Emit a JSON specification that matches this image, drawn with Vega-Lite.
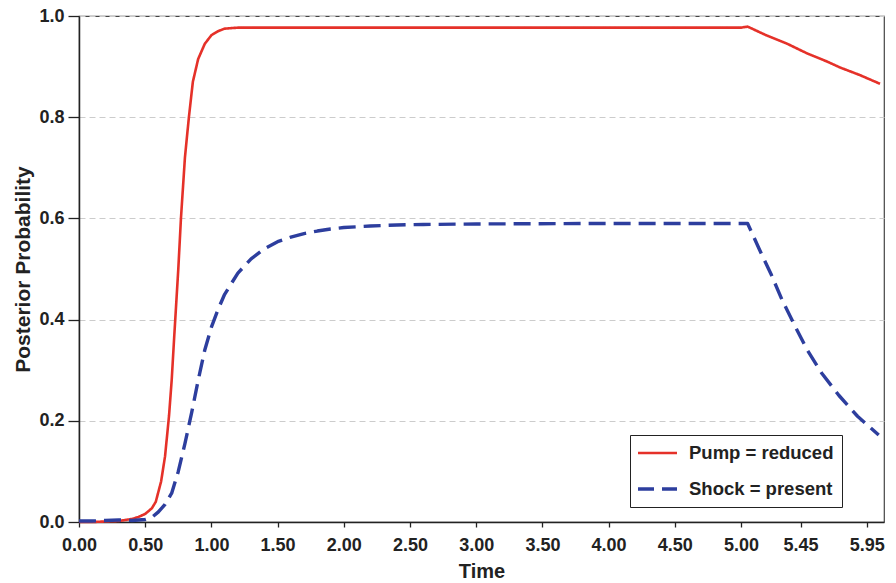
{
  "$schema": "https://vega.github.io/schema/vega-lite/v6.json",
  "width": 805,
  "height": 506,
  "autosize": {"type": "none"},
  "padding": {"left": 79, "top": 16, "right": 12, "bottom": 61},
  "background": "white",
  "config": {
    "font": "Liberation Sans",
    "view": {"stroke": "#444", "strokeWidth": 1.2}
  },
  "data": {
    "values": [
      {"Series": "Pump = reduced", "Time": 0.00, "Probability": 0.000},
      {"Series": "Pump = reduced", "Time": 0.10, "Probability": 0.000},
      {"Series": "Pump = reduced", "Time": 0.20, "Probability": 0.001},
      {"Series": "Pump = reduced", "Time": 0.30, "Probability": 0.002},
      {"Series": "Pump = reduced", "Time": 0.35, "Probability": 0.004},
      {"Series": "Pump = reduced", "Time": 0.40, "Probability": 0.006},
      {"Series": "Pump = reduced", "Time": 0.45, "Probability": 0.010},
      {"Series": "Pump = reduced", "Time": 0.50, "Probability": 0.016},
      {"Series": "Pump = reduced", "Time": 0.55, "Probability": 0.027},
      {"Series": "Pump = reduced", "Time": 0.58, "Probability": 0.040},
      {"Series": "Pump = reduced", "Time": 0.62, "Probability": 0.080},
      {"Series": "Pump = reduced", "Time": 0.65, "Probability": 0.130},
      {"Series": "Pump = reduced", "Time": 0.68, "Probability": 0.210},
      {"Series": "Pump = reduced", "Time": 0.70, "Probability": 0.280},
      {"Series": "Pump = reduced", "Time": 0.72, "Probability": 0.370},
      {"Series": "Pump = reduced", "Time": 0.75, "Probability": 0.500},
      {"Series": "Pump = reduced", "Time": 0.77, "Probability": 0.600},
      {"Series": "Pump = reduced", "Time": 0.80, "Probability": 0.720},
      {"Series": "Pump = reduced", "Time": 0.83, "Probability": 0.800},
      {"Series": "Pump = reduced", "Time": 0.86, "Probability": 0.870},
      {"Series": "Pump = reduced", "Time": 0.90, "Probability": 0.915},
      {"Series": "Pump = reduced", "Time": 0.95, "Probability": 0.945},
      {"Series": "Pump = reduced", "Time": 1.00, "Probability": 0.962},
      {"Series": "Pump = reduced", "Time": 1.05, "Probability": 0.970},
      {"Series": "Pump = reduced", "Time": 1.10, "Probability": 0.975},
      {"Series": "Pump = reduced", "Time": 1.20, "Probability": 0.977},
      {"Series": "Pump = reduced", "Time": 2.00, "Probability": 0.977},
      {"Series": "Pump = reduced", "Time": 3.00, "Probability": 0.977},
      {"Series": "Pump = reduced", "Time": 4.00, "Probability": 0.977},
      {"Series": "Pump = reduced", "Time": 5.00, "Probability": 0.977},
      {"Series": "Pump = reduced", "Time": 5.05, "Probability": 0.979},
      {"Series": "Pump = reduced", "Time": 5.19, "Probability": 0.962},
      {"Series": "Pump = reduced", "Time": 5.35, "Probability": 0.945},
      {"Series": "Pump = reduced", "Time": 5.50, "Probability": 0.926},
      {"Series": "Pump = reduced", "Time": 5.65, "Probability": 0.910},
      {"Series": "Pump = reduced", "Time": 5.75, "Probability": 0.898},
      {"Series": "Pump = reduced", "Time": 5.90, "Probability": 0.883},
      {"Series": "Pump = reduced", "Time": 6.05, "Probability": 0.866},
      {"Series": "Shock = present", "Time": 0.00, "Probability": 0.002},
      {"Series": "Shock = present", "Time": 0.10, "Probability": 0.002},
      {"Series": "Shock = present", "Time": 0.20, "Probability": 0.003},
      {"Series": "Shock = present", "Time": 0.30, "Probability": 0.004},
      {"Series": "Shock = present", "Time": 0.40, "Probability": 0.003},
      {"Series": "Shock = present", "Time": 0.50, "Probability": 0.005},
      {"Series": "Shock = present", "Time": 0.55, "Probability": 0.009},
      {"Series": "Shock = present", "Time": 0.60, "Probability": 0.020},
      {"Series": "Shock = present", "Time": 0.65, "Probability": 0.035},
      {"Series": "Shock = present", "Time": 0.70, "Probability": 0.057},
      {"Series": "Shock = present", "Time": 0.75, "Probability": 0.100},
      {"Series": "Shock = present", "Time": 0.80, "Probability": 0.155},
      {"Series": "Shock = present", "Time": 0.85, "Probability": 0.215},
      {"Series": "Shock = present", "Time": 0.90, "Probability": 0.280},
      {"Series": "Shock = present", "Time": 0.95, "Probability": 0.340},
      {"Series": "Shock = present", "Time": 1.00, "Probability": 0.385},
      {"Series": "Shock = present", "Time": 1.05, "Probability": 0.420},
      {"Series": "Shock = present", "Time": 1.10, "Probability": 0.450},
      {"Series": "Shock = present", "Time": 1.20, "Probability": 0.492},
      {"Series": "Shock = present", "Time": 1.30, "Probability": 0.520},
      {"Series": "Shock = present", "Time": 1.40, "Probability": 0.540},
      {"Series": "Shock = present", "Time": 1.50, "Probability": 0.554},
      {"Series": "Shock = present", "Time": 1.60, "Probability": 0.563},
      {"Series": "Shock = present", "Time": 1.70, "Probability": 0.570},
      {"Series": "Shock = present", "Time": 1.80, "Probability": 0.575},
      {"Series": "Shock = present", "Time": 1.90, "Probability": 0.579},
      {"Series": "Shock = present", "Time": 2.00, "Probability": 0.582},
      {"Series": "Shock = present", "Time": 2.20, "Probability": 0.585},
      {"Series": "Shock = present", "Time": 2.40, "Probability": 0.587},
      {"Series": "Shock = present", "Time": 2.60, "Probability": 0.588},
      {"Series": "Shock = present", "Time": 3.00, "Probability": 0.589},
      {"Series": "Shock = present", "Time": 4.00, "Probability": 0.590},
      {"Series": "Shock = present", "Time": 5.05, "Probability": 0.590},
      {"Series": "Shock = present", "Time": 5.14, "Probability": 0.538},
      {"Series": "Shock = present", "Time": 5.23, "Probability": 0.488},
      {"Series": "Shock = present", "Time": 5.31, "Probability": 0.439},
      {"Series": "Shock = present", "Time": 5.41, "Probability": 0.386},
      {"Series": "Shock = present", "Time": 5.50, "Probability": 0.340},
      {"Series": "Shock = present", "Time": 5.61, "Probability": 0.294},
      {"Series": "Shock = present", "Time": 5.74, "Probability": 0.250},
      {"Series": "Shock = present", "Time": 5.88, "Probability": 0.209},
      {"Series": "Shock = present", "Time": 6.04, "Probability": 0.172}
    ]
  },
  "mark": {"type": "line", "strokeJoin": "round", "strokeCap": "butt"},
  "encoding": {
    "x": {
      "field": "Time",
      "type": "quantitative",
      "scale": {"domain": [0, 6.08], "nice": false, "zero": false},
      "axis": {
        "values": [0, 0.5, 1, 1.5, 2, 2.5, 3, 3.5, 4, 4.5, 5, 5.45, 5.95],
        "format": ".2f",
        "grid": false,
        "labelFont": "Liberation Sans",
        "labelFontSize": 18,
        "labelFontWeight": "bold",
        "labelColor": "#222",
        "labelPadding": 9,
        "labelFlush": false,
        "labelOverlap": false,
        "tickSize": 5,
        "tickColor": "#222",
        "tickWidth": 1.3,
        "domainColor": "#222",
        "domainWidth": 1.5,
        "title": "Time",
        "titleFont": "Liberation Sans",
        "titleFontSize": 20,
        "titleFontWeight": "bold",
        "titleColor": "#222",
        "titlePadding": 7
      }
    },
    "y": {
      "field": "Probability",
      "type": "quantitative",
      "scale": {"domain": [0, 1], "nice": false},
      "axis": {
        "values": [0, 0.2, 0.4, 0.6, 0.8, 1.0],
        "format": ".1f",
        "grid": true,
        "gridColor": "#cccccc",
        "gridDash": [6, 4],
        "gridWidth": 1,
        "labelFont": "Liberation Sans",
        "labelFontSize": 18,
        "labelFontWeight": "bold",
        "labelColor": "#222",
        "labelPadding": 4,
        "labelFlush": false,
        "tickSize": 11,
        "tickColor": "#222",
        "tickWidth": 1.3,
        "domainColor": "#222",
        "domainWidth": 1.5,
        "title": "Posterior Probability",
        "titleFont": "Liberation Sans",
        "titleFontSize": 21,
        "titleFontWeight": "bold",
        "titleColor": "#222",
        "titlePadding": 5
      }
    },
    "color": {
      "field": "Series",
      "type": "nominal",
      "scale": {"domain": ["Pump = reduced", "Shock = present"], "range": ["#e53129", "#2d3e9e"]},
      "legend": {
        "title": null,
        "orient": "none",
        "legendX": 551,
        "legendY": 419,
        "direction": "vertical",
        "fillColor": "white",
        "strokeColor": "#222",
        "padding": 8,
        "cornerRadius": 0,
        "symbolType": "stroke",
        "symbolSize": 1600,
        "symbolOffset": -3,
        "clipHeight": 20,
        "labelFont": "Liberation Sans",
        "labelFontSize": 18.5,
        "labelFontWeight": "bold",
        "labelColor": "#222",
        "labelOffset": 10,
        "labelLimit": 300,
        "rowPadding": 16
      }
    },
    "strokeDash": {
      "field": "Series",
      "type": "nominal",
      "scale": {"domain": ["Pump = reduced", "Shock = present"], "range": [[1, 0], [17, 8]]}
    },
    "strokeWidth": {
      "field": "Series",
      "type": "nominal",
      "scale": {"domain": ["Pump = reduced", "Shock = present"], "range": [2.6, 3.4]}
    }
  }
}
